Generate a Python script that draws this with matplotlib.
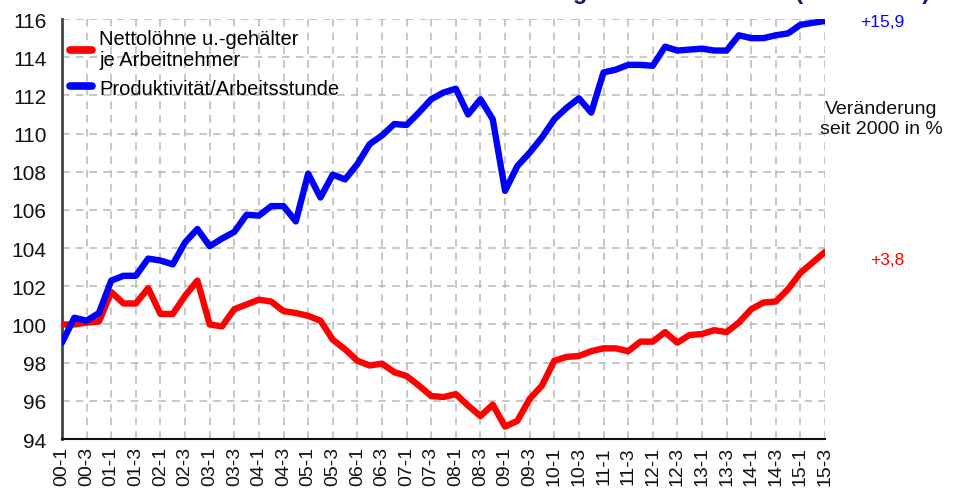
import matplotlib
matplotlib.use("Agg")
import matplotlib.pyplot as plt

plt.rcParams['font.family'] = ['Liberation Sans', 'DejaVu Sans']

#_________data (Index 2000 = 100, quarterly)__________
years = list(range(0, 16))
quarters = ["%02d-%d" % (y, q) for y in years for q in range(1, 5)][:63]

netto = [100.0, 100.0, 100.1, 100.15, 101.7, 101.1, 101.1, 101.9,
         100.55, 100.55, 101.5, 102.3, 100.0, 99.9, 100.8, 101.05,
         101.3, 101.2, 100.7, 100.6, 100.45, 100.2, 99.2, 98.7,
         98.1, 97.85, 97.95, 97.5, 97.3, 96.8, 96.25, 96.2,
         96.35, 95.75, 95.2, 95.8, 94.65, 94.95, 96.1, 96.8,
         98.1, 98.3, 98.35, 98.6, 98.75, 98.75, 98.6, 99.1,
         99.1, 99.6, 99.05, 99.45, 99.5, 99.7, 99.6, 100.1,
         100.8, 101.15, 101.2, 101.85, 102.7, 103.25, 103.8]

produkt = [99.05, 100.35, 100.2, 100.6, 102.3, 102.55, 102.55, 103.45,
           103.35, 103.15, 104.3, 105.0, 104.1, 104.5, 104.85, 105.75,
           105.7, 106.2, 106.2, 105.4, 107.9, 106.65, 107.85, 107.6,
           108.4, 109.45, 109.9, 110.5, 110.45, 111.1, 111.8, 112.15,
           112.35, 111.0, 111.8, 110.75, 107.0, 108.3, 109.0, 109.8,
           110.75, 111.35, 111.85, 111.1, 113.2, 113.35, 113.6, 113.6,
           113.55, 114.55, 114.35, 114.4, 114.45, 114.35, 114.35, 115.15,
           115.0, 115.0, 115.15, 115.25, 115.7, 115.8, 115.9]

label_netto = "Nettolöhne u.-gehälter\nje Arbeitnehmer"
label_produkt = "Produktivität/Arbeitsstunde"
change_netto = "+3,8"
change_produkt = "+15,9"
y_ticks = list(range(94, 117, 2))
#______________________________________________________

fig = plt.figure(figsize=(9.6, 4.89), dpi=100)
ax = fig.add_axes([0.0646, 0.1002, 0.7948, 0.8588])

x = list(range(len(quarters)))
ax.plot(x, netto, color="#ff0000", lw=4.6, solid_joinstyle="round",
        solid_capstyle="round", label=label_netto, zorder=3)
ax.plot(x, produkt, color="#0000ff", lw=4.6, solid_joinstyle="round",
        solid_capstyle="round", label=label_produkt, zorder=3)

ax.set_xlim(0, len(quarters) - 1)
ax.set_ylim(94, 116)
ax.set_yticks(y_ticks)
ax.set_yticklabels([str(v) for v in y_ticks], fontsize=15, color="#111111")
ax.set_xticks(x[::2])
ax.set_xticklabels(quarters[::2], rotation=90, fontsize=14, color="#111111")
ax.tick_params(axis="y", length=0, pad=11)
ax.tick_params(axis="x", length=0, pad=5)

ax.grid(True, color="#b8b8b8", linestyle=(0, (5, 4)), lw=1.1, zorder=0)
for s in ["top", "right"]:
    ax.spines[s].set_visible(False)
ax.spines["left"].set_color("#444444")
ax.spines["left"].set_linewidth(2)
ax.spines["bottom"].set_color("#111111")
ax.spines["bottom"].set_linewidth(1.5)

leg = ax.legend(loc="upper left", frameon=False, fontsize=14.5, handlelength=1.1,
                handletextpad=0.35, borderaxespad=0.0, labelspacing=0.45,
                bbox_to_anchor=(0.0, 0.995))
for h in leg.get_lines():
    h.set_linewidth(5.5)
for t in leg.get_texts():
    t.set_linespacing(1.15)

# annotations right of the plot
fig.text(0.919, 0.955, change_produkt, color="#0000ff", fontsize=12.5, ha="center", va="center")
fig.text(0.924, 0.468, change_netto, color="#ff0000", fontsize=12.5, ha="center", va="center")
fig.text(0.918, 0.755, "Veränderung\nseit 2000 in %", color="#111111", fontsize=14,
         ha="center", va="center", linespacing=1.25)

# title, clipped at the top edge as in the original
fig.text(0.969, 1.003, "Lohnentwicklung und Produktivität (2000 = 100)", color="#1a1a66",
         fontsize=17, fontweight="bold", ha="right", va="baseline")

fig.savefig("out.png", dpi=100)
